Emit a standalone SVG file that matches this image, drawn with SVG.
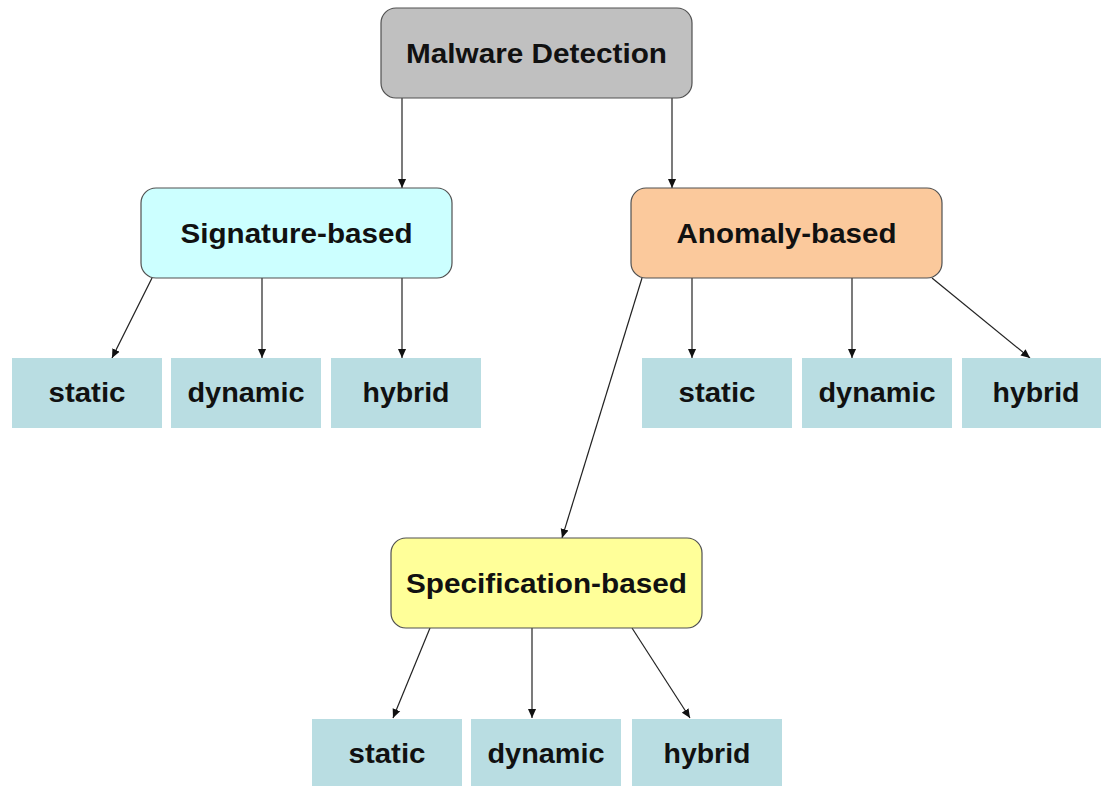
<svg xmlns="http://www.w3.org/2000/svg" width="1101" height="786" viewBox="0 0 1101 786">
<style>
.box{stroke:#505050;stroke-width:1.2}
.leaf{fill:#b9dde2}
.t{font-family:"Liberation Sans",Arial,sans-serif;font-weight:bold;font-size:27px;fill:#111;text-anchor:middle}
.c{stroke:#222;stroke-width:1.2;fill:none;marker-end:url(#ah)}
</style>
<defs>
<marker id="ah" viewBox="0 0 10 10" refX="10" refY="5" markerWidth="9" markerHeight="9" markerUnits="userSpaceOnUse" orient="auto">
<path d="M0,0.5 L10,5 L0,9.5 z" fill="#111"/>
</marker>
</defs>
<rect width="1101" height="786" fill="#fff"/>
<g id="connectors">
<line class="c" x1="402" y1="98" x2="402" y2="188"/>
<line class="c" x1="672" y1="98" x2="672" y2="188"/>
<line class="c" x1="152" y1="278" x2="112" y2="358"/>
<line class="c" x1="262" y1="278" x2="262" y2="358"/>
<line class="c" x1="402" y1="278" x2="402" y2="358"/>
<line class="c" x1="692" y1="278" x2="692" y2="358"/>
<line class="c" x1="852" y1="278" x2="852" y2="358"/>
<line class="c" x1="932" y1="278" x2="1030" y2="358"/>
<line class="c" x1="642" y1="278" x2="562" y2="538"/>
<line class="c" x1="430" y1="628" x2="393" y2="718"/>
<line class="c" x1="532" y1="628" x2="532" y2="718"/>
<line class="c" x1="632" y1="628" x2="690" y2="718"/>
</g>
<g id="malware-detection">
<rect class="box" x="381" y="8" width="311" height="90" rx="15" fill="#c0c0c0"/>
<text class="t" x="536.5" y="63" textLength="261" lengthAdjust="spacingAndGlyphs">Malware Detection</text>
</g>
<g id="signature-based">
<rect class="box" x="141" y="188" width="311" height="90" rx="15" fill="#ccffff"/>
<text class="t" x="296.5" y="243" textLength="232" lengthAdjust="spacingAndGlyphs">Signature-based</text>
</g>
<g id="anomaly-based">
<rect class="box" x="631" y="188" width="311" height="90" rx="15" fill="#fbc99c"/>
<text class="t" x="786.5" y="243" textLength="220" lengthAdjust="spacingAndGlyphs">Anomaly-based</text>
</g>
<g id="specification-based">
<rect class="box" x="391" y="538" width="311" height="90" rx="15" fill="#ffff99"/>
<text class="t" x="546.5" y="593" textLength="281" lengthAdjust="spacingAndGlyphs">Specification-based</text>
</g>
<g id="sig-static"><rect class="leaf" x="12" y="358" width="150" height="70"/><text class="t" x="87" y="402" textLength="77" lengthAdjust="spacingAndGlyphs">static</text></g>
<g id="sig-dynamic"><rect class="leaf" x="171" y="358" width="150" height="70"/><text class="t" x="246" y="402" textLength="117" lengthAdjust="spacingAndGlyphs">dynamic</text></g>
<g id="sig-hybrid"><rect class="leaf" x="331" y="358" width="150" height="70"/><text class="t" x="406" y="402" textLength="87" lengthAdjust="spacingAndGlyphs">hybrid</text></g>
<g id="ano-static"><rect class="leaf" x="642" y="358" width="150" height="70"/><text class="t" x="717" y="402" textLength="77" lengthAdjust="spacingAndGlyphs">static</text></g>
<g id="ano-dynamic"><rect class="leaf" x="802" y="358" width="150" height="70"/><text class="t" x="877" y="402" textLength="117" lengthAdjust="spacingAndGlyphs">dynamic</text></g>
<g id="ano-hybrid"><rect class="leaf" x="962" y="358" width="150" height="70"/><text class="t" x="1036" y="402" textLength="87" lengthAdjust="spacingAndGlyphs">hybrid</text></g>
<g id="spec-static"><rect class="leaf" x="312" y="719" width="150" height="70"/><text class="t" x="387" y="763" textLength="77" lengthAdjust="spacingAndGlyphs">static</text></g>
<g id="spec-dynamic"><rect class="leaf" x="471" y="719" width="150" height="70"/><text class="t" x="546" y="763" textLength="117" lengthAdjust="spacingAndGlyphs">dynamic</text></g>
<g id="spec-hybrid"><rect class="leaf" x="632" y="719" width="150" height="70"/><text class="t" x="707" y="763" textLength="87" lengthAdjust="spacingAndGlyphs">hybrid</text></g>
</svg>
